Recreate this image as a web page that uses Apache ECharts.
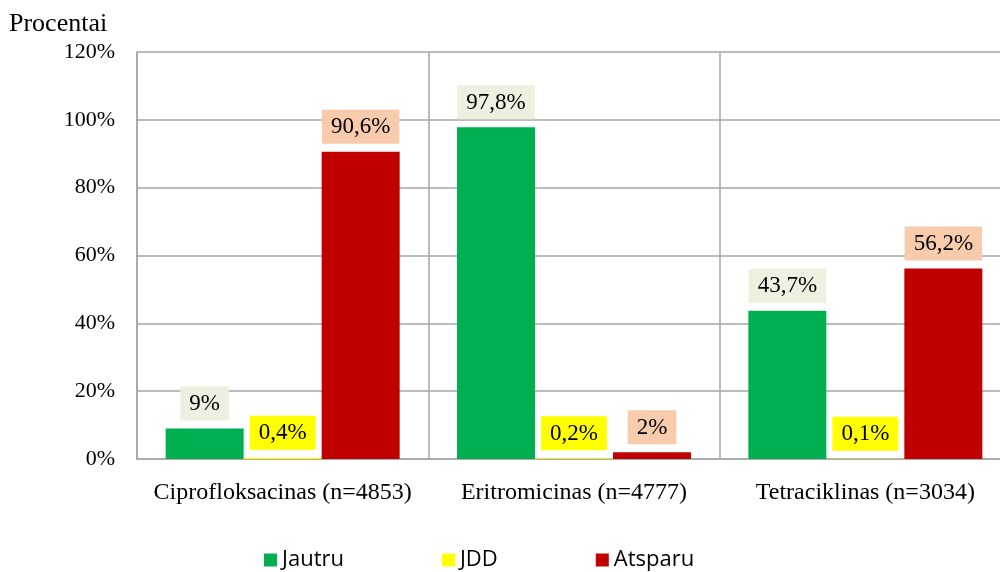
<!DOCTYPE html>
<html>
<head>
<meta charset="utf-8">
<script src="https://cdn.jsdelivr.net/npm/echarts@6/dist/echarts.min.js"></script>
<style>
  html, body { margin: 0; padding: 0; background: #fff; }
  #main { width: 1000px; height: 572px; }
</style>
</head>
<body>
<div id="main"></div>
<script>
var categories = ['Ciprofloksacinas (n=4853)', 'Eritromicinas (n=4777)', 'Tetraciklinas (n=3034)'];
var jautru = [9, 97.8, 43.7];
var jdd = [0.4, 0.2, 0.1];
var atsparu = [90.6, 2, 56.2];
var yTicks = [0, 20, 40, 60, 80, 100, 120];

var serif = '"Liberation Serif", "Times New Roman", serif';

function pct(p){
    return String(p.value).replace('.', ',') + '%';
}
function makeLabel(bg){
    return {
        show: true,
        position: 'top',
        distance: 8,
        formatter: pct,
        fontFamily: serif,
        fontSize: 23,
        color: '#000',
        backgroundColor: bg,
        padding: [6, 9, 5, 9]
    };
}

var myChart = echarts.init(document.getElementById('main'));
myChart.setOption({
    animation: false,
    title: {
        text: 'Procentai',
        left: 4,
        top: 6,
        textStyle: { fontFamily: serif, fontSize: 26, fontWeight: 'normal', color: '#000' }
    },
    grid: { left: 137, top: 52, width: 874, height: 407, outerBoundsMode: 'none' },
    legend: {
        bottom: -4,
        left: 259,
        itemWidth: 13,
        itemHeight: 13,
        itemGap: 98,
        icon: 'rect',
        textStyle: { fontFamily: '"Open Sans", "Liberation Sans", sans-serif', fontSize: 22, color: '#000' },
        data: ['Jautru', 'JDD', 'Atsparu']
    },
    xAxis: {
        type: 'category',
        data: categories,
        axisTick: { show: false },
        axisLine: { lineStyle: { color: '#a6a6a6', width: 1.5 } },
        splitLine: { show: true, interval: 0, lineStyle: { color: '#a6a6a6', width: 1.5 } },
        axisLabel: { interval: 0, margin: 22, fontFamily: serif, fontSize: 24, color: '#000' }
    },
    yAxis: {
        type: 'value',
        min: yTicks[0],
        max: yTicks[yTicks.length - 1],
        interval: 20,
        axisLine: { show: true, lineStyle: { color: '#a6a6a6', width: 1.5 } },
        axisTick: { show: false },
        splitLine: { lineStyle: { color: '#a6a6a6', width: 1.5 } },
        axisLabel: { margin: 22, formatter: '{value}%', fontFamily: serif, fontSize: 22, color: '#000' }
    },
    series: [{
        name: 'Jautru',
        type: 'bar',
        data: jautru,
        barWidth: 78,
        barGap: '0%',
        itemStyle: { color: '#00b050' },
        label: makeLabel('#ebf1de')
    },{
        name: 'JDD',
        type: 'bar',
        data: jdd,
        barWidth: 78,
        barGap: '0%',
        itemStyle: { color: '#ffff00' },
        label: makeLabel('#ffff00')
    },{
        name: 'Atsparu',
        type: 'bar',
        data: atsparu,
        barWidth: 78,
        barGap: '0%',
        itemStyle: { color: '#c00000' },
        label: makeLabel('#f8cbad')
    }]
});
</script>
</body>
</html>
